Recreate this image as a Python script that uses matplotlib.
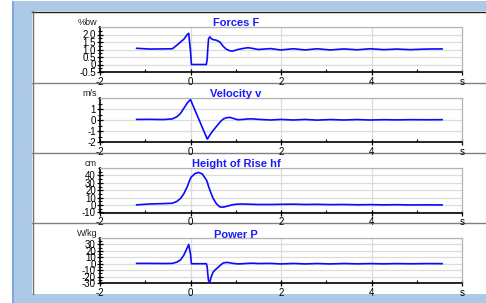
import matplotlib
matplotlib.use("Agg")
import matplotlib.pyplot as plt
from matplotlib.patches import Rectangle
from matplotlib.lines import Line2D
from matplotlib.ticker import MultipleLocator

plt.rcParams['font.family'] = ['Liberation Sans', 'DejaVu Sans']
plt.rcParams['axes.unicode_minus'] = False

# ---- data ----
time_s = [-1.19, -0.9, -0.6, -0.4, -0.3, -0.22, -0.15, -0.07, -0.04, 0.0, 0.02,
          0.1, 0.18, 0.26, 0.35, 0.37, 0.38, 0.40, 0.43, 0.46, 0.5, 0.57, 0.65,
          0.72, 0.79, 0.87, 0.94, 1.05, 1.16, 1.27, 1.38, 1.49,
          1.77, 1.99, 2.28, 2.53, 2.8, 3.09, 3.39, 3.68, 3.97, 4.27, 4.56, 4.85,
          5.22, 5.56]

force_bw = [1.08, 1.03, 1.04, 1.05, 1.29, 1.5, 1.68, 2.0, 2.08, 0.9, 0.0,
            0.0, 0.0, 0.0, 0.0, 0.4, 0.96, 1.73, 1.84, 1.72, 1.66, 1.62, 1.5,
            1.22, 1.02, 0.91, 0.9, 1.0, 1.07, 1.12, 1.07, 1.0,
            1.06, 0.97, 1.05, 0.97, 1.05, 0.97, 1.04, 0.98, 1.05, 0.99, 1.03, 0.99,
            1.03, 1.04]

velocity_ms = [0.05, 0.06, 0.04, 0.1, 0.3, 0.6, 1.05, 1.55, 1.7, 1.85, 1.66,
               0.88, 0.11, -0.67, -1.54, -1.73, -1.7, -1.55, -1.35, -1.18, -0.95, -0.6, -0.2,
               0.08, 0.2, 0.24, 0.15, 0.02, 0.05, 0.1, 0.1, 0.06,
               0.0, 0.05, 0.0, 0.05, -0.01, 0.04, 0.0, 0.04, 0.0, 0.03, 0.01, 0.03,
               0.02, 0.03]

height_cm = [0.3, 1.5, 2.0, 2.5, 5, 9, 15, 25, 30, 36, 38,
             42.5, 44, 42, 34, 31, 29, 25, 20, 15, 9, 2, -2.5,
             -2.8, -1.8, -0.5, 0.6, 1.3, 1.4, 1.2, 1.0, 0.8,
             0.8, 1.0, 1.2, 0.8, 1.0, 0.6, 0.8, 0.4, 0.6, 0.3, 0.5, 0.2,
             0.3, 0.2]

power_wkg = [0.5, 0.5, 0.3, 0.5, 2.5, 6, 13, 25, 30, 15, 0,
             0, 0, 0, 0, -5, -15, -27, -28, -20, -13, -8, -3,
             1, 2, 1.5, 0.5, -0.3, 0, 0.6, 0.8, 0.3,
             0.5, -0.3, 0.4, -0.3, 0.3, -0.3, 0.3, -0.2, 0.2, -0.2, 0.2, -0.1,
             0.2, 0.1]

x_ticks = [-2, 0, 2, 4, 6]
x_tick_labels = ['-2', '0', '2', '4', 's']

titles = ['Forces F', 'Velocity v', 'Height of Rise hf', 'Power P']
units = ['%bw', 'm/s', 'cm', 'W/kg']
series = [force_bw, velocity_ms, height_cm, power_wkg]
ylims = [(-0.5, 2.5), (-2, 2), (-10, 50), (-30, 40)]
y_ticks = [[-0.5, 0, 0.5, 1.0, 1.5, 2.0], [-2, -1, 0, 1],
           [-10, 0, 10, 20, 30, 40], [-30, -20, -10, 0, 10, 20, 30]]
y_tick_labels = [['-0.5', '0', '0.5', '1.0', '1.5', '2.0'], ['-2', '-1', '0', '1'],
                 ['-10', '0', '10', '20', '30', '40'],
                 ['-30', '-20', '-10', '0', '10', '20', '30']]
grid_steps = [0.5, 1, 10, 10]
minor_steps = [0.25, 0.5, 5, 5]

# ---- layout (pixels) ----
W, H = 486, 303
fig = plt.figure(figsize=(W / 100, H / 100), dpi=100)
fig.patch.set_facecolor('white')

def fx(px):
    return px / W

def fy(py):
    return 1 - py / H

bg = fig.add_axes([0, 0, 1, 1], zorder=-10)
bg.set_xlim(0, W)
bg.set_ylim(H, 0)
bg.axis('off')
blue_bg = '#adc9e8'
bg.add_patch(Rectangle((12, 1), W - 12, H - 1, facecolor=blue_bg, edgecolor='none'))
bg.add_patch(Rectangle((12, 1), 2, H - 1, facecolor='#7fa9da', edgecolor='none'))
bg.add_patch(Rectangle((32, 11), W - 32, 283, facecolor='white', edgecolor='none'))
bg.plot([32, W], [11.5, 11.5], color='#202020', lw=1.0)
bg.plot([32.5, 32.5], [11, 294], color='#707070', lw=1.0)
for sep in [82.5, 152.5, 222.5]:
    bg.plot([32, W], [sep, sep], color='#808080', lw=1.0)

axes_px = [(27, 72), (98, 142), (168, 212.5), (238, 283)]
left_px, right_px = 100, 462
title_y = [23, 94, 164, 235]

for i in range(4):
    top, bot = axes_px[i]
    ax = fig.add_axes([fx(left_px), fy(bot), fx(right_px - left_px), (bot - top) / H])
    ax.set_facecolor('none')
    ax.plot(time_s, series[i], color='#0a0aff', lw=1.2, zorder=3)
    ax.set_xlim(-2, 6)
    ax.set_ylim(*ylims[i])
    ax.set_xticks(x_ticks)
    ax.set_xticklabels(x_tick_labels)
    ax.set_yticks(y_ticks[i])
    ax.set_yticklabels(y_tick_labels[i])
    ax.xaxis.set_minor_locator(MultipleLocator(1))
    ax.yaxis.set_minor_locator(MultipleLocator(minor_steps[i]))
    ymin, ymax = ylims[i]
    g = ymin
    while g <= ymax + 1e-9:
        ax.axhline(g, color='#dcdcdc', lw=0.9, zorder=1)
        g += grid_steps[i]
    for gx in [0, 2, 4]:
        ax.axvline(gx, color='#dcdcdc', lw=0.9, zorder=1)
    for s in ['top', 'right']:
        ax.spines[s].set_color('#b4b4b4')
        ax.spines[s].set_linewidth(0.9)
    for s in ['left', 'bottom']:
        ax.spines[s].set_color('black')
        ax.spines[s].set_linewidth(1.2)
    ax.tick_params(axis='both', which='major', direction='inout', length=4, width=0.9,
                   labelsize=7, pad=1, colors='black')
    ax.tick_params(axis='y', which='minor', direction='inout', length=2.5, width=0.8)
    ax.tick_params(axis='x', which='minor', direction='in', length=2.5, width=0.8)
    ax.tick_params(axis='x', which='major', pad=1.5)
    ax.text(-0.008, 1.0, units[i], transform=ax.transAxes, ha='right', va='bottom',
            fontsize=6.5, color='#202020')
    fig.text(fx(236), fy(title_y[i]), titles[i], ha='center', va='center',
             fontsize=8, fontweight='bold', color='#1a1aff')

fig.savefig('out.png', dpi=100)
